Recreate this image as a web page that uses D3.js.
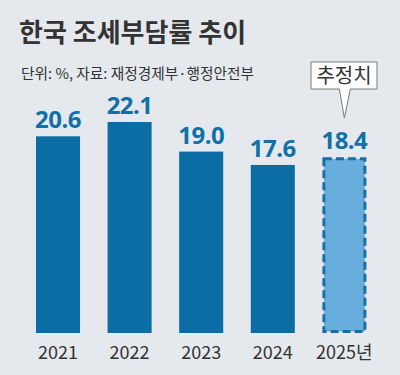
<!DOCTYPE html>
<html><head><meta charset="utf-8">
<script src="https://cdn.jsdelivr.net/npm/d3@7"></script>
<style>body{margin:0;background:#e5e9ee;} svg{display:block;}</style>
</head><body>
<script>
const categories = ["2021","2022","2023","2024","2025년"];
const values = [20.6, 22.1, 19.0, 17.6, 18.4];
const labels = ["20.6","22.1","19.0","17.6","18.4"];
const estimated = [false,false,false,false,true];
const title = "한국 조세부담률 추이";
const subtitle = "단위: %, 자료: 재정경제부·행정안전부";
const calloutText = "추정치";

const W=400,H=375;
const svg=d3.select("body").append("svg").attr("width",W).attr("height",H);
svg.append("rect").attr("width",W).attr("height",H).attr("fill","#e5e9ee");

const x=d3.scaleBand().domain(categories).range([22.4,380]).paddingInner(0.385).paddingOuter(0.19);
const y=d3.scaleLinear().domain([0,22.1]).range([333,122]);

svg.append("text").attr("x",19).attr("y",42).text(title)
  .attr("font-family","'Noto Sans CJK KR'").attr("font-weight",700).attr("font-size",26).attr("fill","#333");
svg.append("text").attr("x",21).attr("y",79).text(subtitle)
  .attr("font-family","'Noto Sans CJK KR'").attr("font-size",14.7).attr("fill","#333");

const g=svg.append("g");
categories.forEach((c,i)=>{
  const bx=x(c), bw=x.bandwidth(), top=y(values[i]);
  if(!estimated[i]){
    g.append("rect").attr("x",bx).attr("y",top).attr("width",bw).attr("height",y(0)-top).attr("fill","#0c6da4");
  } else {
    g.append("rect").attr("x",bx+1.5).attr("y",top+1.5).attr("width",bw-3).attr("height",y(0)-top-3)
      .attr("fill","#68aedd").attr("stroke","#1b6ea2").attr("stroke-width",3).attr("stroke-dasharray","8,4");
  }
  g.append("text").attr("x",bx+bw/2).attr("y",top-8).attr("text-anchor","middle").text(labels[i])
    .attr("font-family","'Noto Sans'").attr("font-weight",700).attr("font-size",24).attr("fill","#1170a8")
    .attr("letter-spacing",-0.5);
});

const xAxis=d3.axisBottom(x).tickSize(0).tickPadding(0);
const ax=svg.append("g").attr("transform","translate(0,343)").call(xAxis);
ax.select(".domain").remove();
ax.selectAll("text").attr("font-family","'Liberation Sans Narrow','Noto Sans CJK KR'").attr("font-size",18)
  .attr("fill","#333").attr("dy","0.9em");

// callout
const cx=x(categories[4])+x.bandwidth()/2;
const bx0=311,bx1=377,by0=62,by1=89,tip=118;
svg.append("path").attr("d",`M${bx0},${by0}H${bx1}V${by1}H${cx+6}L${cx},${tip}L${cx-5},${by1}H${bx0}Z`)
  .attr("fill","#fff").attr("stroke","#7a7a7a").attr("stroke-width",1);
svg.append("text").attr("x",(bx0+bx1)/2).attr("y",83).attr("text-anchor","middle").text(calloutText)
  .attr("font-family","'Noto Sans CJK KR'").attr("font-size",20).attr("fill","#333");
</script>
</body></html>
